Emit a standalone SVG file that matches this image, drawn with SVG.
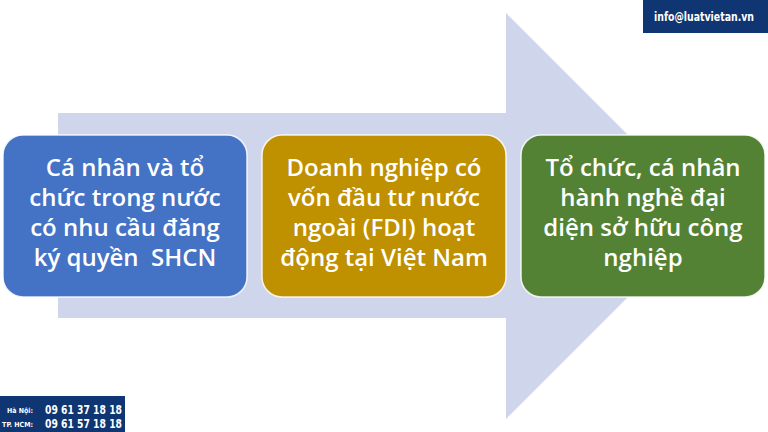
<svg xmlns="http://www.w3.org/2000/svg" width="768" height="432" viewBox="0 0 768 432">
<style>
.box{stroke:#ffffff;stroke-width:1.5;stroke-opacity:0.85}
.t{font-family:"Open Sans","Noto Sans","Liberation Sans",sans-serif;font-size:24px;font-weight:600;fill:#ffffff;text-anchor:middle;white-space:pre}
.badge{fill:#0f3572}
.bt{font-family:"DejaVu Sans Condensed","Liberation Sans",sans-serif;font-weight:bold;fill:#ffffff}
</style>
<rect width="768" height="432" fill="#ffffff"/>
<g id="connectors">
<polygon points="58,113 506,113 506,13 709,216 506,419 506,318 58,318" fill="#cfd5ea"/>
</g>
<g id="node1">
<rect class="box" x="3" y="135" width="244" height="162" rx="20" fill="#4472c4"/>
<text class="t" x="125" y="176">Cá nhân và tổ</text>
<text class="t" x="125" y="206">chức trong nước</text>
<text class="t" x="125" y="236">có nhu cầu đăng</text>
<text class="t" x="125" y="266" xml:space="preserve">ký quyền  SHCN</text>
</g>
<g id="node2">
<rect class="box" x="262" y="135" width="244" height="162" rx="20" fill="#bf9000"/>
<text class="t" x="384" y="176">Doanh nghiệp có</text>
<text class="t" x="384" y="206">vốn đầu tư nước</text>
<text class="t" x="384" y="236">ngoài (FDI) hoạt</text>
<text class="t" x="384" y="266">động tại Việt Nam</text>
</g>
<g id="node3">
<rect class="box" x="521" y="135" width="244" height="162" rx="20" fill="#548235"/>
<text class="t" x="643" y="176">Tổ chức, cá nhân</text>
<text class="t" x="643" y="206">hành nghề đại</text>
<text class="t" x="643" y="236">diện sở hữu công</text>
<text class="t" x="643" y="266">nghiệp</text>
</g>
<g id="email">
<rect class="badge" x="643" y="0" width="125" height="33"/>
<text class="bt" x="654" y="21" font-size="12" textLength="100" lengthAdjust="spacingAndGlyphs">info@luatvietan.vn</text>
</g>
<g id="phones">
<rect class="badge" x="0" y="396" width="125" height="36"/>
<text class="bt" x="33" y="413" font-size="7" text-anchor="end">Hà Nội:</text>
<text class="bt" x="33" y="427" font-size="7" text-anchor="end">TP. HCM:</text>
<text class="bt" x="45" y="414" font-size="13" textLength="77" lengthAdjust="spacingAndGlyphs">09 61 37 18 18</text>
<text class="bt" x="45" y="428" font-size="13" textLength="77" lengthAdjust="spacingAndGlyphs">09 61 57 18 18</text>
</g>
</svg>
